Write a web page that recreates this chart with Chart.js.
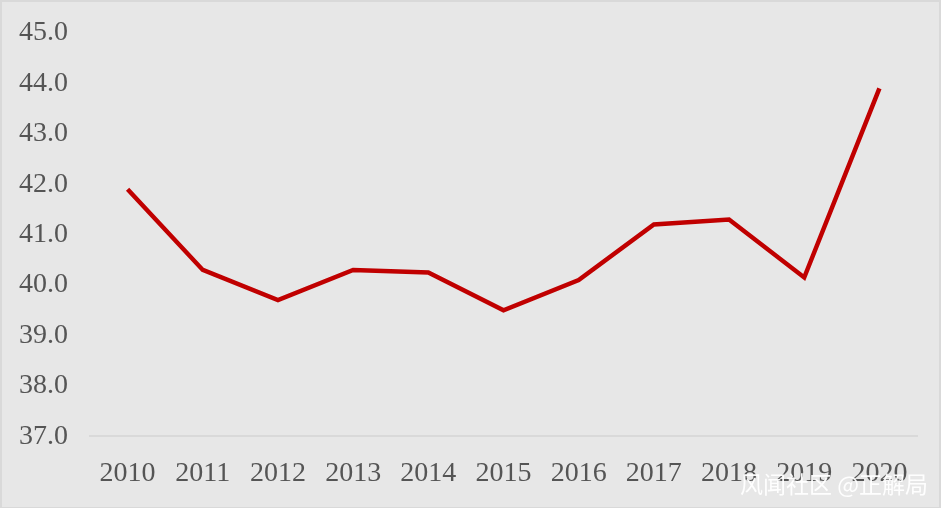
<!DOCTYPE html>
<html>
<head>
<meta charset="utf-8">
<script src="https://cdn.jsdelivr.net/npm/chart.js@4"></script>
<style>
  html, body { margin: 0; padding: 0; background: #e7e7e7; }
  #wrap { width: 941px; height: 508px; box-sizing: border-box; border: 2px solid #d9d9d9; border-bottom-width: 1px; position: relative; }
  canvas { display: block; }
</style>
</head>
<body>
<div id="wrap"><canvas id="lineChart" width="937" height="505"></canvas></div>
<script>
(function () {
  "use strict";

  var years = ["2010","2011","2012","2013","2014","2015","2016","2017","2018","2019","2020"];
  var values = [41.9, 40.3, 39.7, 40.3, 40.25, 39.5, 40.1, 41.2, 41.3, 40.15, 43.9];
  var yTicks = [37, 38, 39, 40, 41, 42, 43, 44, 45];

  // watermark in the bottom right corner
  var watermark = {
    id: "watermark",
    afterDraw: function (chart) {
      var c = chart.ctx;
      c.save();
      c.font = "23px 'Noto Sans CJK SC'";
      c.fillStyle = "rgba(255,255,255,0.95)";
      c.textAlign = "right";
      c.textBaseline = "middle";
      c.fillText("风闻社区 @正解局", 926, 482);
      c.restore();
    }
  };

  var ctx = document.getElementById("lineChart");
  new Chart(ctx, {
    type: "line",
    data: {
      labels: years,
      datasets: [{
        data: values,
        borderColor: "#c00000",
        borderWidth: 4.5,
        pointRadius: 0,
        tension: 0,
        fill: false
      }]
    },
    options: {
      responsive: false,
      animation: false,
      layout: { padding: { top: 23, right: 22, left: 16, bottom: 5 } },
      plugins: { legend: { display: false }, tooltip: { enabled: false } },
      scales: {
        x: {
          offset: true,
          grid: { display: false },
          border: { color: "#d9d9d9", width: 2 },
          ticks: {
            color: "#555555",
            font: { family: "'Liberation Serif'", size: 28 },
            padding: 12,
            maxRotation: 0
          }
        },
        y: {
          min: 37,
          max: 45,
          afterBuildTicks: function (axis) {
            axis.ticks = yTicks.map(function (v) { return { value: v }; });
          },
          afterFit: function (axis) { axis.width = 72; },
          grid: { display: false },
          border: { display: false },
          ticks: {
            color: "#555555",
            font: { family: "'Liberation Serif'", size: 28 },
            padding: 14,
            callback: function (v) { return Number(v).toFixed(1); }
          }
        }
      }
    },
    plugins: [watermark]
  });
})();
</script>
</body>
</html>
